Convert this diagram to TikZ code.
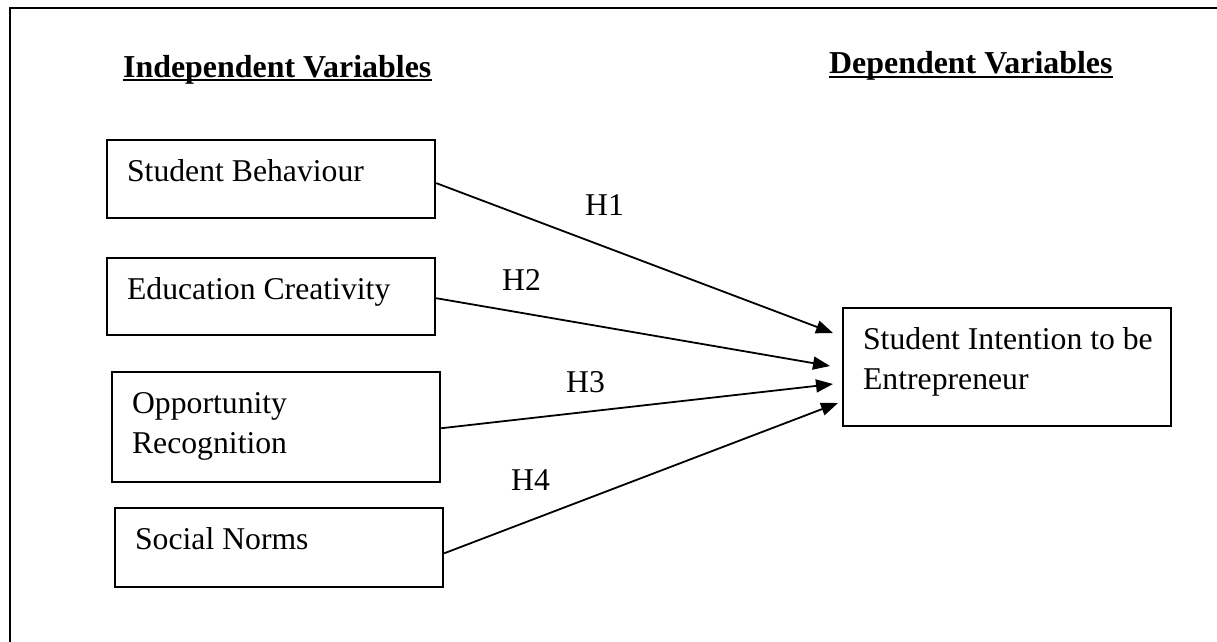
\documentclass[tikz,border=0pt]{standalone}
\usepackage{fontspec}
\setmainfont{Liberation Serif}
\usetikzlibrary{arrows.meta,calc}
\newcommand{\boxtext}[2]{\parbox[t][#1][t]{288pt}{\raggedright\rule{0pt}{41pt}#2}}
\begin{document}
\begin{tikzpicture}[x=1pt,y=-1pt,
  every node/.style={font=\fontsize{31.7}{40}\selectfont},
  varbox/.style={draw, line width=2.2pt, inner xsep=20pt, inner ysep=0pt, anchor=north west},
  head/.style={inner sep=0pt, anchor=base west, font=\fontsize{31.9}{40}\selectfont\bfseries},
  hlab/.style={inner sep=0pt, anchor=base west},
  link/.style={line width=1.8pt, -{Triangle[length=17pt,width=13pt]}},
  uline/.style={line width=2.8pt},
  frame/.style={line width=2.4pt}]
\fill[white] (0,0) rectangle (1217,641);
\useasboundingbox (0,0) rectangle (1217,641);
\clip (0,0) rectangle (1217,641);

% outer frame (only top and left edges visible)
\draw[frame] (10,660) -- (10,8) -- (1240,8);

% headings
\node[head] (ind) at (123,77) {Independent Variables};
\node[head] (dep) at (829,73) {Dependent Variables};
\draw[uline] ($(ind.base west)+(0,3)$) -- ($(ind.base east)+(0,3)$);
\draw[uline] ($(dep.base west)+(0,4)$) -- ($(dep.base east)+(0,4)$);

% boxes
\node[varbox] (sb) at (106,139) {\boxtext{78pt}{Student Behaviour}};
\node[varbox] (ec) at (106,257) {\boxtext{77pt}{Education Creativity}};
\node[varbox] (or) at (111,371) {\boxtext{110pt}{Opportunity\\Recognition}};
\node[varbox] (sn) at (114,507) {\boxtext{79pt}{Social Norms}};
\node[varbox] (si) at (842,307) {\boxtext{118pt}{\mbox{Student Intention to be}\\Entrepreneur}};

% connectors
\draw[link] ($(sb.north east)!0.55!(sb.south east)$) -- ($(si.north west)+(-9,26)$);
\draw[link] ($(ec.north east)!0.52!(ec.south east)$) -- ($(si.north west)+(-12,59)$);
\draw[link] ($(or.north east)!0.51!(or.south east)$) -- ($(si.north west)+(-9,77)$);
\draw[link] ($(sn.north east)!0.57!(sn.south east)$) -- ($(si.north west)+(-4,96)$);

% hypothesis labels
\node[hlab] (h1) at (585,215) {H1};
\node[hlab] (h2) at (502,290) {H2};
\node[hlab] (h3) at (566,392) {H3};
\node[hlab] (h4) at (511,490) {H4};
\end{tikzpicture}
\end{document}
